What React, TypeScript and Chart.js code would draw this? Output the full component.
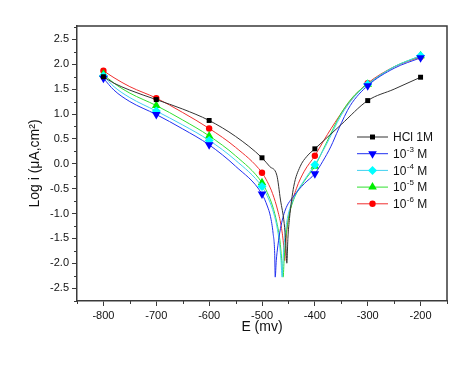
import { useEffect, useRef } from "react";
import { Chart, registerables } from "chart.js";

Chart.register(...registerables);

// ---------- data ----------
const xTickValues = [-800, -700, -600, -500, -400, -300, -200];
const yTickValues = [-2.5, -2, -1.5, -1, -0.5, 0, 0.5, 1, 1.5, 2, 2.5];

const hclE = [-800, -780, -750, -700, -650, -600, -550, -500, -485, -472, -465, -458, -455, -453, -451, -448, -440, -428, -415, -400, -350, -300, -250, -200];
const hclLogI = [1.75, 1.62, 1.48, 1.29, 1.1, 0.87, 0.55, 0.12, -0.06, -0.23, -0.73, -1.2, -1.6, -2.0, -1.5, -1.1, -0.46, -0.06, 0.15, 0.3, 0.79, 1.27, 1.5, 1.74];

const m3E = [-800, -780, -750, -700, -650, -600, -550, -500, -490, -484, -479, -476, -475, -473, -470, -465, -456, -440, -420, -400, -385, -370, -355, -333, -300, -250, -200];
const m3LogI = [1.72, 1.48, 1.25, 0.99, 0.7, 0.38, -0.05, -0.61, -0.85, -1.06, -1.4, -1.8, -2.28, -1.95, -1.65, -1.3, -0.93, -0.65, -0.4, -0.2, 0.05, 0.34, 0.7, 1.17, 1.57, 1.92, 2.13];

const m4E = [-800, -780, -750, -700, -650, -600, -550, -500, -490, -480, -472, -467, -464, -462, -460, -457, -452, -440, -420, -400, -380, -350, -325, -300, -250, -200];
const m4LogI = [1.77, 1.55, 1.33, 1.06, 0.78, 0.47, 0.07, -0.46, -0.65, -0.92, -1.25, -1.6, -1.95, -2.28, -1.9, -1.5, -1.1, -0.7, -0.33, -0.02, 0.35, 0.98, 1.35, 1.6, 1.95, 2.17];

const m5E = [-800, -780, -750, -700, -650, -600, -550, -500, -490, -480, -472, -466, -463, -460, -458, -455, -450, -440, -420, -400, -380, -350, -325, -300, -250, -200];
const m5LogI = [1.8, 1.62, 1.42, 1.17, 0.88, 0.56, 0.16, -0.38, -0.58, -0.85, -1.18, -1.55, -1.9, -2.28, -1.9, -1.5, -1.1, -0.72, -0.35, -0.05, 0.38, 1.02, 1.38, 1.6, 1.95, 2.17];

const m6E = [-800, -780, -750, -700, -650, -600, -550, -500, -490, -480, -470, -463, -459, -457, -455, -452, -446, -435, -420, -400, -383, -355, -327, -300, -250, -200];
const m6LogI = [1.87, 1.73, 1.55, 1.32, 1.03, 0.71, 0.33, -0.18, -0.36, -0.6, -0.95, -1.3, -1.65, -1.95, -1.6, -1.25, -0.9, -0.5, -0.15, 0.16, 0.47, 0.94, 1.34, 1.62, 1.95, 2.15];

const seriesNames = ["HCl 1M", "10^-3 M", "10^-4 M", "10^-5 M", "10^-6 M"];

// ---------- styles ----------
const FONT = "'Liberation Sans', Arial, Helvetica, sans-serif";
const AXIS_COLOR = "#3a3a3a";

type Style = { line: string; marker: string; shape: string; radius: number; rotation: number };
const styles: Style[] = [
  { line: "#333333", marker: "#000000", shape: "rect", radius: 3.5, rotation: 0 },
  { line: "#2030f0", marker: "#0000ff", shape: "triangle", radius: 5, rotation: 180 },
  { line: "#40d0f0", marker: "#00ffff", shape: "rectRot", radius: 4.5, rotation: 0 },
  { line: "#30e030", marker: "#00ee00", shape: "triangle", radius: 5, rotation: 0 },
  { line: "#f03030", marker: "#ff0000", shape: "circle", radius: 3.2, rotation: 0 },
];

const seriesData = [
  [hclE, hclLogI],
  [m3E, m3LogI],
  [m4E, m4LogI],
  [m5E, m5LogI],
  [m6E, m6LogI],
];

function drawMarker(ctx: CanvasRenderingContext2D, st: Style, x: number, y: number) {
  const r = st.radius;
  ctx.fillStyle = st.marker;
  ctx.beginPath();
  if (st.shape === "rect") {
    const h = r * Math.SQRT1_2;
    ctx.rect(x - h, y - h, 2 * h, 2 * h);
  } else if (st.shape === "circle") {
    ctx.arc(x, y, r, 0, Math.PI * 2);
  } else if (st.shape === "rectRot") {
    ctx.moveTo(x - r, y);
    ctx.lineTo(x, y - r);
    ctx.lineTo(x + r, y);
    ctx.lineTo(x, y + r);
    ctx.closePath();
  } else {
    const s = st.rotation === 180 ? -1 : 1;
    ctx.moveTo(x, y - s * r);
    ctx.lineTo(x + r * 0.866, y + s * r * 0.5);
    ctx.lineTo(x - r * 0.866, y + s * r * 0.5);
    ctx.closePath();
  }
  ctx.fill();
}

const framePlugin = {
  id: "frameAndMinor",
  afterDraw(chart: any) {
    const { ctx, chartArea: a, scales } = chart;
    ctx.save();
    ctx.strokeStyle = AXIS_COLOR;
    ctx.lineWidth = 1.5;
    ctx.beginPath();
    ctx.moveTo(a.left, a.top);
    ctx.lineTo(a.right, a.top);
    ctx.lineTo(a.right, a.bottom);
    ctx.stroke();
    // minor ticks
    ctx.lineWidth = 1;
    ctx.beginPath();
    for (let v = -850; v <= -150; v += 100) {
      const px = Math.round(scales.x.getPixelForValue(v)) + 0.5;
      ctx.moveTo(px, a.bottom);
      ctx.lineTo(px, a.bottom + 3);
    }
    for (let v = -2.75; v <= 2.76; v += 0.5) {
      const py = Math.round(scales.y.getPixelForValue(v)) + 0.5;
      ctx.moveTo(a.left, py);
      ctx.lineTo(a.left - 3, py);
    }
    ctx.stroke();

    // legend
    const x1 = 357, x2 = 388, tx = 393, y0 = 137, dy = 16.7;
    seriesNames.forEach((name, i) => {
      const st = styles[i];
      const y = y0 + i * dy;
      ctx.strokeStyle = st.line;
      ctx.lineWidth = 1;
      ctx.beginPath();
      ctx.moveTo(x1, y);
      ctx.lineTo(x2, y);
      ctx.stroke();
      drawMarker(ctx, st, (x1 + x2) / 2, y);
      ctx.fillStyle = "#111";
      ctx.textBaseline = "middle";
      ctx.textAlign = "left";
      const m = name.match(/^(\d+)\^(-?\d+)(.*)$/);
      if (m) {
        ctx.font = `12px ${FONT}`;
        ctx.fillText(m[1], tx, y + 1);
        let x = tx + ctx.measureText(m[1]).width + 0.5;
        ctx.font = `8px ${FONT}`;
        ctx.fillText(m[2], x, y - 4);
        x += ctx.measureText(m[2]).width;
        ctx.font = `12px ${FONT}`;
        ctx.fillText(m[3], x, y + 1);
      } else {
        ctx.font = `12px ${FONT}`;
        ctx.fillText(name, tx, y + 1);
      }
    });
    ctx.restore();
  },
};

export default function App() {
  const ref = useRef<HTMLCanvasElement | null>(null);

  useEffect(() => {
    if (!ref.current) return;
    const datasets = seriesData.map(([es, ls], i) => {
      const st = styles[i];
      return {
        label: seriesNames[i],
        data: es.map((e, k) => ({ x: e, y: ls[k] })),
        borderColor: st.line,
        backgroundColor: st.marker,
        borderWidth: 1,
        pointStyle: st.shape as any,
        pointRotation: st.rotation,
        pointBorderColor: st.marker,
        pointBackgroundColor: st.marker,
        pointBorderWidth: 0,
        pointRadius: (c: any) => (c.raw && c.raw.x % 100 === 0 ? st.radius : 0),
        pointHoverRadius: 0,
        cubicInterpolationMode: "monotone" as const,
        order: i,
      };
    });

    const chart = new Chart(ref.current, {
      type: "line",
      data: { datasets },
      plugins: [framePlugin],
      options: {
        animation: false,
        responsive: false,
        events: [],
        layout: { padding: { top: 26, right: 27, left: 0, bottom: 0 } },
        plugins: { legend: { display: false }, tooltip: { enabled: false } },
        scales: {
          x: {
            type: "linear",
            min: -850,
            max: -150,
            afterBuildTicks: (s: any) => {
              s.ticks = xTickValues.map((v) => ({ value: v }));
            },
            afterFit: (s: any) => {
              s.height = 64;
            },
            ticks: {
              color: "#111",
              font: { family: FONT, size: 11 },
              padding: 3,
              maxRotation: 0,
              autoSkip: false,
              callback: (v: any) => String(v),
            },
            grid: { drawOnChartArea: false, drawTicks: true, tickLength: 5, tickColor: AXIS_COLOR, tickWidth: 1 },
            border: { display: true, color: AXIS_COLOR, width: 1.5 },
            title: {
              display: true,
              text: "E (mv)",
              color: "#111",
              font: { family: FONT, size: 14 },
              padding: { top: 0, bottom: 29 },
            },
          },
          y: {
            type: "linear",
            min: -2.76,
            max: 2.77,
            afterBuildTicks: (s: any) => {
              s.ticks = yTickValues.map((v) => ({ value: v }));
            },
            afterFit: (s: any) => {
              s.width = 77;
            },
            ticks: {
              color: "#111",
              font: { family: FONT, size: 11 },
              padding: 3,
              autoSkip: false,
              callback: (v: any) => Number(v).toFixed(1),
            },
            grid: { drawOnChartArea: false, drawTicks: true, tickLength: 5, tickColor: AXIS_COLOR, tickWidth: 1 },
            border: { display: true, color: AXIS_COLOR, width: 1.5 },
            title: {
              display: true,
              text: "Log i (μA,cm²)",
              color: "#111",
              font: { family: FONT, size: 14 },
              padding: { top: 27, bottom: 0 },
            },
          },
        },
      },
    });
    return () => chart.destroy();
  }, []);

  return (
    <div style={{ position: "fixed", left: 0, top: 0, width: 474, height: 365, background: "#fff" }}>
      <canvas ref={ref} width={474} height={365} style={{ display: "block" }} />
    </div>
  );
}
